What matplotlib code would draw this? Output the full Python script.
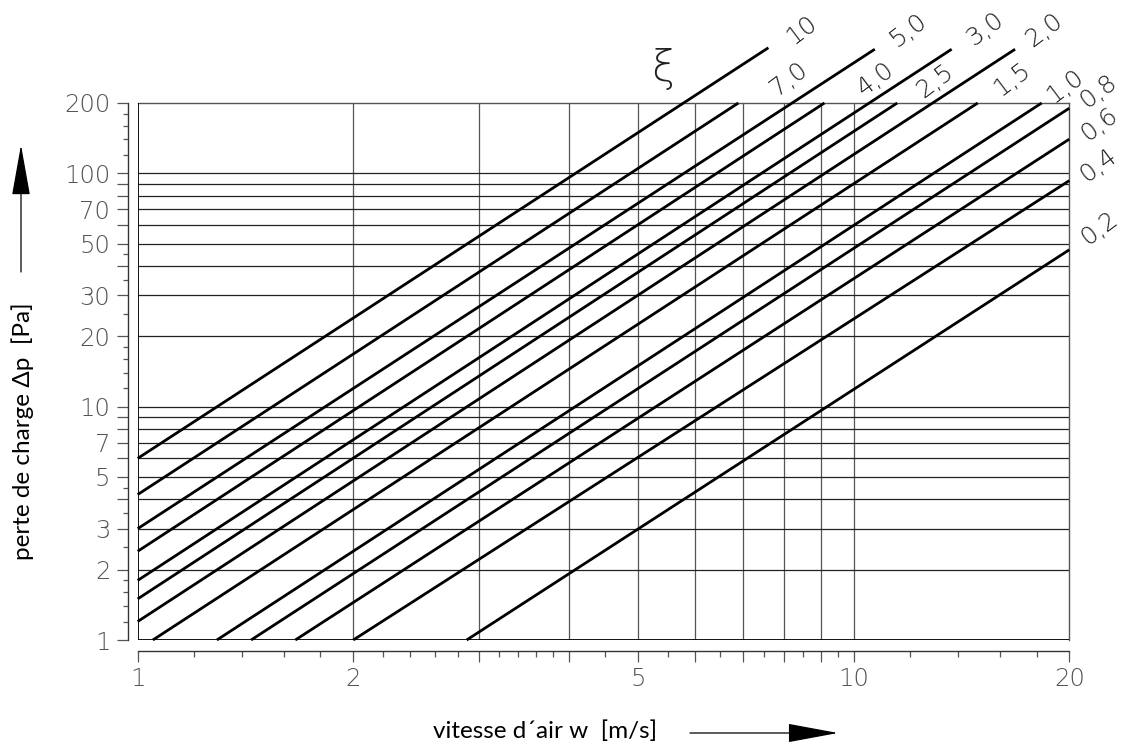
import matplotlib
matplotlib.use("Agg")
import matplotlib.pyplot as plt
from matplotlib.ticker import FixedLocator, FixedFormatter, NullFormatter

# ---------------- data ----------------
xi_labels = ["10", "7,0", "5,0", "4,0", "3,0", "2,5", "2,0", "1,5", "1,0", "0,8", "0,6", "0,4", "0,2"]
w_start = [1.0, 1.0, 1.0, 1.0, 1.0, 1.0, 1.0, 1.05, 1.29, 1.44, 1.66, 2.0, 2.88]
dp_start = [6.0, 4.2, 3.0, 2.4, 1.8, 1.5, 1.2, 1.0, 1.0, 1.0, 1.0, 1.0, 1.0]
w_end = [7.6, 6.9, 10.7, 9.1, 13.7, 11.5, 16.8, 14.9, 18.3, 20.0, 20.0, 20.0, 20.0]
dp_end = [345, 200, 340, 200, 340, 200, 340, 200, 200, 190, 140, 93, 47]

x_major = [1, 2, 3, 4, 5, 6, 7, 8, 9, 10, 20]
x_minor = [1.2, 1.4, 1.6, 1.8, 2.2, 2.4, 2.6, 2.8, 3.2, 3.4, 3.6, 3.8, 4.5,
           5.5, 6.5, 7.5, 8.5, 9.5, 12, 14, 16, 18]
x_labels = {1: "1", 2: "2", 5: "5", 10: "10", 20: "20"}
x_grid = [2, 3, 4, 5, 6, 7, 8, 9, 10]

y_major = [1, 2, 3, 4, 5, 6, 7, 8, 9, 10, 20, 30, 40, 50, 60, 70, 80, 90, 100, 200]
y_minor = [1.2, 1.4, 1.6, 1.8, 2.5, 3.5, 4.5, 12, 14, 16, 18, 25, 35, 45, 120, 140, 160, 180]
y_labels = {1: "1", 2: "2", 3: "3", 5: "5", 7: "7", 10: "10", 20: "20", 30: "30",
            50: "50", 70: "70", 100: "100", 200: "200"}
y_grid = [2, 3, 4, 5, 6, 7, 8, 9, 10, 20, 30, 40, 50, 60, 70, 80, 90, 100]

xlabel = "vitesse d\u00b4air w  [m/s]"
ylabel = "perte de charge \u0394p  [Pa]"

# label offsets (pixels) from each line end
lab_dx = [33, 51, 34, 51, 33, 38, 29, 34, 23, 29, 30, 29, 30]
lab_dy = [18, 24, 19, 24, 20, 22, 19, 24, 17, 17, 15, 16, 22]

# ---------------- figure ----------------
W, H = 1121, 747
fig = plt.figure(figsize=(W / 100, H / 100), dpi=100)
L, R, T, B = 137.7, 1069.3, 103, 640
ax = fig.add_axes([L / W, 1 - B / H, (R - L) / W, (B - T) / H])
ax.set_xscale("log")
ax.set_yscale("log")
ax.set_xlim(1, 20)
ax.set_ylim(1, 200)

tick_font = dict(family="DejaVu Sans", weight="ultralight")
tick_col = "#555555"

# spines
ax.spines["left"].set_position(("outward", 9.4 * 0.72))
ax.spines["bottom"].set_position(("outward", 10.7 * 0.72))
for s in ("left", "bottom"):
    ax.spines[s].set_color("#333333")
    ax.spines[s].set_linewidth(1.0)
for s in ("top", "right"):
    ax.spines[s].set_color("#555555")
    ax.spines[s].set_linewidth(1.0)

# frame borders on the data edges
ax.axvline(1, color="black", lw=1.3, zorder=3)
ax.axhline(1, color="black", lw=1.3, zorder=3)

# grid
for g in x_grid:
    ax.axvline(g, color="#555555", lw=0.9, zorder=1)
for g in y_grid:
    ax.axhline(g, color="#222222", lw=0.9, zorder=1)

# ticks
ax.xaxis.set_major_locator(FixedLocator(x_major))
ax.xaxis.set_minor_locator(FixedLocator(x_minor))
ax.xaxis.set_major_formatter(FixedFormatter([x_labels.get(v, "") for v in x_major]))
ax.xaxis.set_minor_formatter(NullFormatter())
ax.yaxis.set_major_locator(FixedLocator(y_major))
ax.yaxis.set_minor_locator(FixedLocator(y_minor))
ax.yaxis.set_major_formatter(FixedFormatter([y_labels.get(v, "") for v in y_major]))
ax.yaxis.set_minor_formatter(NullFormatter())

ax.tick_params(axis="both", which="major", direction="out", length=11 * 0.72,
               width=0.9, color=tick_col, labelsize=17.5, labelcolor=tick_col)
ax.tick_params(axis="both", which="minor", direction="out", length=5.5 * 0.72,
               width=0.9, color=tick_col)
ax.tick_params(axis="y", which="major", pad=5)
ax.tick_params(axis="x", which="major", pad=4)
ax.tick_params(top=False, right=False)
for lab in ax.get_xticklabels() + ax.get_yticklabels():
    lab.set_fontfamily(tick_font["family"])
    lab.set_fontweight(tick_font["weight"])

# curves
for i, lab in enumerate(xi_labels):
    ax.plot([w_start[i], w_end[i]], [dp_start[i], dp_end[i]], color="black",
            lw=2.0, solid_capstyle="butt", clip_on=False, zorder=4)
    ax.annotate(lab, xy=(w_end[i], dp_end[i]), xytext=(lab_dx[i], lab_dy[i]),
                textcoords="offset pixels", ha="center", va="center",
                rotation=37, fontsize=18, color="#222222",
                fontfamily=tick_font["family"], fontweight=tick_font["weight"],
                annotation_clip=False)

fig.text(663 / W, 1 - 69 / H, "\u03be", ha="center", va="center", fontsize=30,
         color="#222222", fontfamily=tick_font["family"], fontweight=tick_font["weight"])

# axis titles
lab_font = ["Lato", "DejaVu Sans"]
fig.text(545 / W, 1 - 731 / H, xlabel, ha="center", va="center", fontsize=17.5,
         family=lab_font, color="black")
fig.text(23 / W, 1 - 431 / H, ylabel, ha="center", va="center", fontsize=17.5,
         rotation=90, family=lab_font, color="black")

# arrows
ax.annotate("", xy=(21, H - 145), xytext=(21, H - 272), xycoords="figure pixels",
            textcoords="figure pixels",
            arrowprops=dict(arrowstyle="-|>,head_length=1.62,head_width=0.29",
                            mutation_scale=20, lw=0.9, color="black",
                            shrinkA=0, shrinkB=0))
ax.annotate("", xy=(838, H - 733), xytext=(690, H - 733), xycoords="figure pixels",
            textcoords="figure pixels",
            arrowprops=dict(arrowstyle="-|>,head_length=1.62,head_width=0.30",
                            mutation_scale=20, lw=0.9, color="black",
                            shrinkA=0, shrinkB=0))

fig.savefig("out.png", dpi=100)
